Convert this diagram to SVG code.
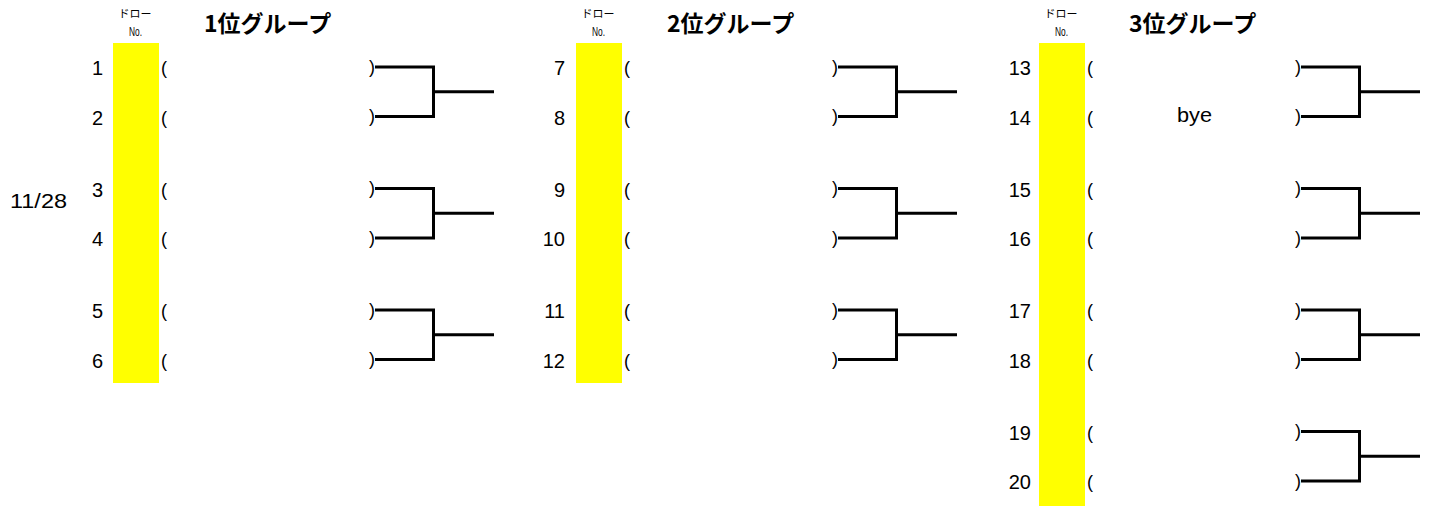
<svg xmlns="http://www.w3.org/2000/svg" width="1432" height="506" viewBox="0 0 1432 506">
<style>
.num{font-family:"Liberation Sans",Arial,sans-serif;font-size:20px;fill:#000;text-anchor:end}
.par{font-family:"Liberation Sans",Arial,sans-serif;font-size:18px;fill:#000}
.title{font-family:"Noto Sans CJK JP","Liberation Sans",sans-serif;font-size:23px;font-weight:bold;fill:#000}
.hd{font-family:"Noto Sans CJK JP","Liberation Sans",sans-serif;font-size:11px;fill:#000;text-anchor:middle}
.no{font-family:"Liberation Sans",Arial,sans-serif;font-size:12px;fill:#000}
.col{fill:#ffff00}
.br{fill:none;stroke:#000;stroke-width:3;stroke-linejoin:miter}
.txt{font-family:"Liberation Sans",Arial,sans-serif;font-size:20px;fill:#000}
</style>
<rect width="1432" height="506" fill="#fff"/>
<text id="date" class="txt" x="10" y="208" textLength="57" lengthAdjust="spacingAndGlyphs">11/28</text>

<g id="group1">
  <rect class="col" x="113" y="43" width="46" height="340"/>
  <text class="hd" x="135" y="18">ドロー</text>
  <text class="no" x="129" y="36" textLength="13" lengthAdjust="spacingAndGlyphs">No.</text>
  <text class="title" x="204" y="32">1位グループ</text>
  <g id="r1"><text class="num" x="103" y="75">1</text><text class="par" x="161" y="74">(</text><text class="par" x="369" y="72.5">)</text></g>
  <g id="r2"><text class="num" x="103" y="124.5">2</text><text class="par" x="161" y="123.5">(</text><text class="par" x="369" y="122">)</text></g>
  <g id="r3"><text class="num" x="103" y="196.5">3</text><text class="par" x="161" y="195.5">(</text><text class="par" x="369" y="194">)</text></g>
  <g id="r4"><text class="num" x="103" y="246">4</text><text class="par" x="161" y="245">(</text><text class="par" x="369" y="243.5">)</text></g>
  <g id="r5"><text class="num" x="103" y="318">5</text><text class="par" x="161" y="317">(</text><text class="par" x="369" y="315.5">)</text></g>
  <g id="r6"><text class="num" x="103" y="367.5">6</text><text class="par" x="161" y="366.5">(</text><text class="par" x="369" y="365">)</text></g>
</g>

<g id="group2">
  <rect class="col" x="576" y="43" width="46" height="340"/>
  <text class="hd" x="598" y="18">ドロー</text>
  <text class="no" x="592" y="36" textLength="13" lengthAdjust="spacingAndGlyphs">No.</text>
  <text class="title" x="667" y="32">2位グループ</text>
  <g id="r7"><text class="num" x="565" y="75">7</text><text class="par" x="624" y="74">(</text><text class="par" x="832" y="72.5">)</text></g>
  <g id="r8"><text class="num" x="565" y="124.5">8</text><text class="par" x="624" y="123.5">(</text><text class="par" x="832" y="122">)</text></g>
  <g id="r9"><text class="num" x="565" y="196.5">9</text><text class="par" x="624" y="195.5">(</text><text class="par" x="832" y="194">)</text></g>
  <g id="r10"><text class="num" x="565" y="246">10</text><text class="par" x="624" y="245">(</text><text class="par" x="832" y="243.5">)</text></g>
  <g id="r11"><text class="num" x="565" y="318">11</text><text class="par" x="624" y="317">(</text><text class="par" x="832" y="315.5">)</text></g>
  <g id="r12"><text class="num" x="565" y="367.5">12</text><text class="par" x="624" y="366.5">(</text><text class="par" x="832" y="365">)</text></g>
</g>

<g id="group3">
  <rect class="col" x="1039" y="43" width="46" height="463"/>
  <text class="hd" x="1061" y="18">ドロー</text>
  <text class="no" x="1055" y="36" textLength="13" lengthAdjust="spacingAndGlyphs">No.</text>
  <text class="title" x="1129" y="32">3位グループ</text>
  <g id="r13"><text class="num" x="1031" y="75">13</text><text class="par" x="1087" y="74">(</text><text class="par" x="1295" y="72.5">)</text></g>
  <g id="r14"><text class="num" x="1031" y="124.5">14</text><text class="par" x="1087" y="123.5">(</text><text class="txt" x="1177" y="122" textLength="35" lengthAdjust="spacingAndGlyphs">bye</text><text class="par" x="1295" y="122">)</text></g>
  <g id="r15"><text class="num" x="1031" y="196.5">15</text><text class="par" x="1087" y="195.5">(</text><text class="par" x="1295" y="194">)</text></g>
  <g id="r16"><text class="num" x="1031" y="246">16</text><text class="par" x="1087" y="245">(</text><text class="par" x="1295" y="243.5">)</text></g>
  <g id="r17"><text class="num" x="1031" y="318">17</text><text class="par" x="1087" y="317">(</text><text class="par" x="1295" y="315.5">)</text></g>
  <g id="r18"><text class="num" x="1031" y="367.5">18</text><text class="par" x="1087" y="366.5">(</text><text class="par" x="1295" y="365">)</text></g>
  <g id="r19"><text class="num" x="1031" y="439.5">19</text><text class="par" x="1087" y="438.5">(</text><text class="par" x="1295" y="437">)</text></g>
  <g id="r20"><text class="num" x="1031" y="489">20</text><text class="par" x="1087" y="488">(</text><text class="par" x="1295" y="486.5">)</text></g>
</g>

<g id="connectors">
  <path class="br" d="M375 67H433.5V116.5H375M433.5 91.75H494"/>
  <path class="br" d="M375 188.5H433.5V238H375M433.5 213.25H494"/>
  <path class="br" d="M375 310H433.5V359.5H375M433.5 334.75H494"/>
  <path class="br" d="M838 67H896.5V116.5H838M896.5 91.75H957"/>
  <path class="br" d="M838 188.5H896.5V238H838M896.5 213.25H957"/>
  <path class="br" d="M838 310H896.5V359.5H838M896.5 334.75H957"/>
  <path class="br" d="M1301 67H1359.5V116.5H1301M1359.5 91.75H1420"/>
  <path class="br" d="M1301 188.5H1359.5V238H1301M1359.5 213.25H1420"/>
  <path class="br" d="M1301 310H1359.5V359.5H1301M1359.5 334.75H1420"/>
  <path class="br" d="M1301 431.5H1359.5V481H1301M1359.5 456.25H1420"/>
</g>
</svg>
